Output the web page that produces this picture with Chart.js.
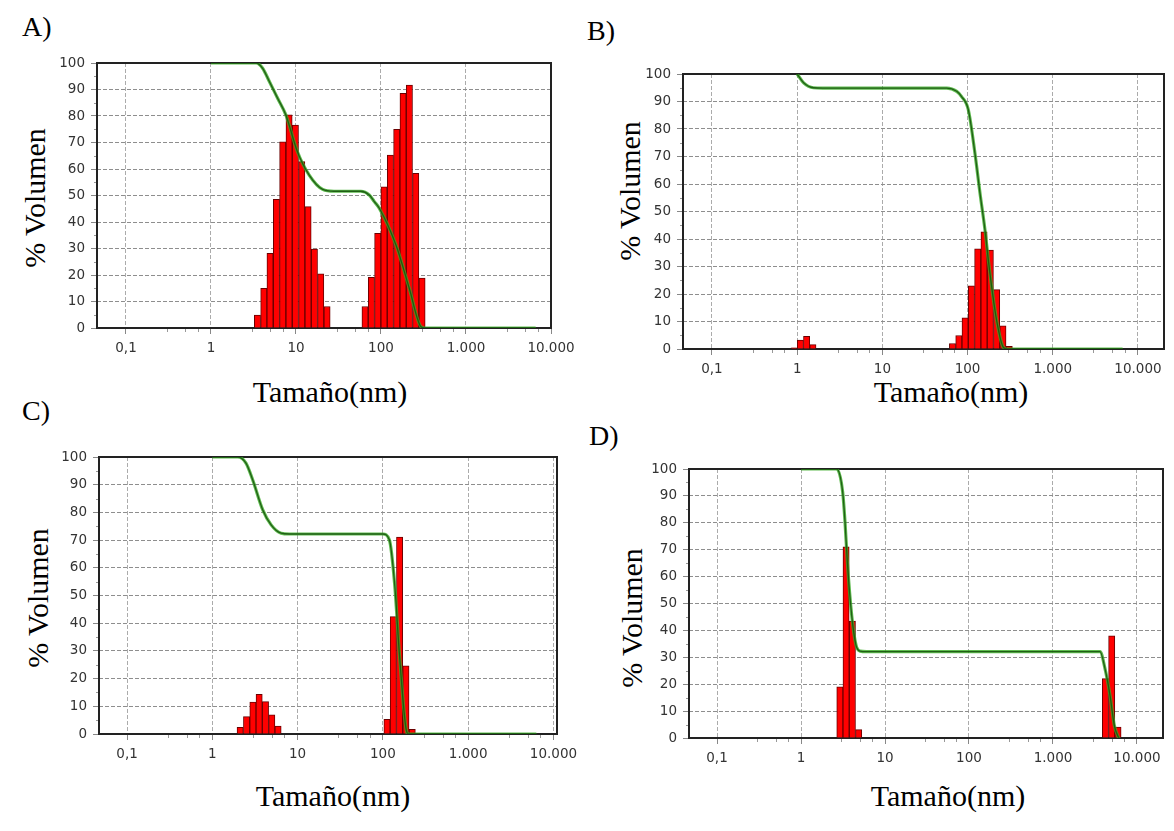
<!DOCTYPE html>
<html>
<head>
<meta charset="utf-8">
<script src="https://cdn.jsdelivr.net/npm/chart.js@4.4.0/dist/chart.umd.min.js"></script>
<style>
  html, body { margin: 0; padding: 0; background: #fff; }
  body { width: 1174px; height: 831px; overflow: hidden; position: relative; }
  .box { position: absolute; }
  .lbl { position: absolute; font-family: "Liberation Serif", serif; font-size: 28px; line-height: 1; color: #000; }
  .ytitle, .xtitle { position: absolute; font-family: "Liberation Serif", serif; font-size: 30px; line-height: 1; color: #000; white-space: nowrap; }
  .ytitle { transform: translate(-50%, -50%) rotate(-90deg); }
  .xtitle { transform: translate(-50%, -50%); }
</style>
</head>
<body>
<div class="lbl" style="left:22px;top:13px">A)</div>
<div class="lbl" style="left:587px;top:17px">B)</div>
<div class="lbl" style="left:22px;top:397px">C)</div>
<div class="lbl" style="left:589px;top:422px">D)</div>

<div class="ytitle" style="left:35px;top:198px">% Volumen</div>
<div class="ytitle" style="left:630px;top:191px">% Volumen</div>
<div class="ytitle" style="left:38px;top:598px">% Volumen</div>
<div class="ytitle" style="left:632px;top:618px">% Volumen</div>

<div class="xtitle" style="left:330px;top:392px">Tamaño(nm)</div>
<div class="xtitle" style="left:951px;top:392px">Tamaño(nm)</div>
<div class="xtitle" style="left:333px;top:796px">Tamaño(nm)</div>
<div class="xtitle" style="left:948px;top:796px">Tamaño(nm)</div>

<div class="box" style="left:37px;top:43px;width:550px;height:325px"><canvas id="chartA"></canvas></div>
<div class="box" style="left:623px;top:54px;width:551px;height:335px"><canvas id="chartB"></canvas></div>
<div class="box" style="left:39px;top:437px;width:554px;height:337px"><canvas id="chartC"></canvas></div>
<div class="box" style="left:629px;top:449px;width:544px;height:329px"><canvas id="chartD"></canvas></div>

<script>
// x axis (size, nm) labels
const tickValues = [0.1, 1, 10, 100, 1000, 10000];
const tickLabels = ['0,1', '1', '10', '100', '1.000', '10.000'];
const minorX = [0.3, 0.5, 0.7, 3, 5, 7, 30, 50, 70, 300, 500, 700, 3000, 5000, 7000];
const minorY = [5, 15, 25, 35, 45, 55, 65, 75, 85, 95];

// A) histogram + cumulative curve
const sizesA = [3.52, 4.18, 4.95, 5.89, 6.98, 8.29, 9.84, 11.69, 13.87, 16.47, 19.54, 23.2,
                64.9, 77.1, 91.5, 108.6, 129, 153.1, 181.8, 215.8, 256.2, 304.1];
const volumeA = [4.9, 15, 28.2, 48.6, 70.3, 80.4, 76.6, 62.8, 45.8, 29.8, 20.4, 8.1,
                 8.1, 19.1, 35.7, 53.3, 65.3, 75, 88.6, 91.7, 58.4, 18.8];
const curveSizeA = [1, 3.4, 4.05, 4.86, 6.08, 7.6, 10.4, 14.3, 20.6, 28, 58, 72.8, 83.4, 95.5, 150, 215, 295, 330, 6600];
const curveA = [100, 100, 98, 93, 86.7, 80.4, 66.5, 57.7, 52.3, 51.6, 51.6, 50.2, 47.7, 45.2, 31.3, 15, 0.5, 0, 0];

// B)
const sizesB = [0.92, 1.09, 1.29, 1.53,
                66.5, 78.9, 93.5, 110.9, 131.5, 156, 184.9, 219.3, 260, 308.3];
const volumeB = [0.4, 3.2, 4.6, 1.6,
                 2.0, 4.9, 11.3, 23, 36.4, 42.6, 36, 21.6, 8.4, 1.0];
const curveSizeB = [1, 1.19, 1.55, 2, 56.9, 74.5, 85, 102, 122, 140, 160, 183, 219, 262, 290, 6600];
const curveB = [100, 96.8, 95, 94.9, 94.9, 93.7, 91.8, 87, 71.2, 56.6, 43.3, 27.5, 10.5, 0.7, 0, 0];

// C)
const sizesC = [2.12, 2.52, 2.99, 3.54, 4.2, 4.98, 5.9, 111.7, 132.4, 157, 186.2, 220.8];
const volumeC = [2.4, 6.3, 11.5, 14.3, 11.7, 6.9, 2.9, 5.3, 42.4, 71.1, 24.6, 1.7];
const curveSizeC = [1, 1.98, 2.48, 2.97, 3.89, 4.89, 6.4, 8, 100, 119, 137, 157, 188, 200, 6300];
const curveC = [100, 100, 97.8, 91.8, 81, 75.5, 72.5, 72.2, 72.2, 70.1, 54.5, 27.9, 1.4, 0, 0];

// D)
const sizesD = [2.9, 3.44, 4.09, 4.86, 4207, 5000, 5943];
const volumeD = [19, 71.1, 43.5, 3.1, 22.1, 38, 4.1];
const curveSizeD = [1, 2.66, 3.13, 3.34, 3.56, 4.01, 4.52, 5.04, 6, 3630, 4160, 4770, 5370, 5990, 6100];
const curveD = [100, 100, 91.6, 80.4, 65.5, 45.7, 34.5, 32.3, 32.1, 32.1, 25.8, 15.9, 4.7, 0.4, 0];

Chart.defaults.font.family = 'DejaVu Sans';
Chart.defaults.color = '#333';

// plot frame + small minor ticks
const framePlugin = {
  id: 'frame',
  beforeDatasetsDraw(chart) {
    const { ctx, chartArea: a, scales } = chart;
    ctx.save();
    ctx.strokeStyle = '#999';
    ctx.lineWidth = 1;
    ctx.beginPath();
    minorX.forEach(v => {
      if (v < scales.x.min || v > scales.x.max) return;
      const px = Math.round(scales.x.getPixelForValue(v)) + 0.5;
      ctx.moveTo(px, a.bottom); ctx.lineTo(px, a.bottom + 4);
    });
    minorY.forEach(v => {
      const py = Math.round(scales.y.getPixelForValue(v)) + 0.5;
      ctx.moveTo(a.left - 3, py); ctx.lineTo(a.left, py);
    });
    ctx.stroke();
    ctx.strokeStyle = '#222';
    ctx.lineWidth = 2;
    ctx.strokeRect(a.left, a.top, a.right - a.left, a.bottom - a.top);
    ctx.restore();
  }
};

function drawPanel(id, sizes, volume, curveSize, curve, xMin, xMax, padRight) {
  const bars = sizes.map((s, i) => ({ x: s, y: volume[i] }));
  const line = curveSize.map((s, i) => ({ x: s, y: curve[i] }));

  new Chart(document.getElementById(id), {
    type: 'bar',
    data: {
      datasets: [
        {
          type: 'line', data: line, order: 0,
          borderColor: 'rgba(25,85,15,0.9)', borderWidth: 1.3,
          pointRadius: 0, cubicInterpolationMode: 'monotone', fill: false
        },
        {
          type: 'line', data: line, order: 1,
          borderColor: 'rgba(55,170,35,0.8)', borderWidth: 3.2,
          pointRadius: 0, cubicInterpolationMode: 'monotone', fill: false
        },
        {
          type: 'bar', data: bars, order: 2,
          backgroundColor: '#ff0000', borderColor: '#6a0000', borderWidth: 1,
          categoryPercentage: 1, barPercentage: 1
        }
      ]
    },
    options: {
      responsive: true,
      maintainAspectRatio: false,
      animation: false,
      layout: { padding: { top: 20, right: padRight, left: 0, bottom: 0 } },
      plugins: { legend: { display: false }, tooltip: { enabled: false } },
      scales: {
        x: {
          type: 'logarithmic', min: xMin, max: xMax, bounds: 'data',
          offset: false,
          grid: { offset: false, color: '#ababab', tickColor: '#888', tickLength: 6 },
          border: { display: false, dash: [4, 2] },
          ticks: {
            autoSkip: false, maxRotation: 0, padding: 6,
            font: { size: 13.5 }, color: '#333',
            callback: (v) => tickLabels[tickValues.indexOf(v)]
          },
          afterBuildTicks: (s) => { s.ticks = tickValues.map(v => ({ value: v })); },
          afterFit: (s) => { s.height = 40; s.paddingLeft = 0; s.paddingRight = 0; }
        },
        y: {
          min: 0, max: 100,
          grid: { color: '#8e8e8e', tickColor: '#888', tickLength: 6 },
          border: { display: false, dash: [4, 2] },
          ticks: { stepSize: 10, padding: 6, font: { size: 13.5 }, color: '#333' },
          afterFit: (s) => { s.width = 60; s.paddingTop = 0; s.paddingBottom = 0; }
        }
      }
    },
    plugins: [framePlugin]
  });
}

drawPanel('chartA', sizesA, volumeA, curveSizeA, curveA, 0.0456, 10000, 36);
drawPanel('chartB', sizesB, volumeB, curveSizeB, curveB, 0.0457, 20200, 10);
drawPanel('chartC', sizesC, volumeC, curveSizeC, curveC, 0.0469, 11000, 36);
drawPanel('chartD', sizesD, volumeD, curveSizeD, curveD, 0.0464, 20400, 10);
</script>
</body>
</html>
